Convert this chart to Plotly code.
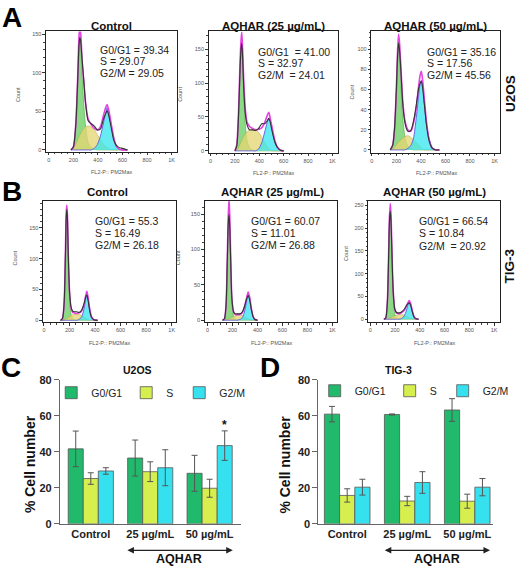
import plotly.graph_objects as go

FONT = "Liberation Sans, Arial, Helvetica, sans-serif"
W, H = 519, 570

# ---------------- histogram data (FL2-P channel vs Count) ----------------
a1_x     = [180, 200, 220, 235, 245, 252, 260, 270, 285, 300, 320, 345, 370, 395, 420, 445, 465, 475, 490, 510, 530, 550, 575, 600, 640]
a1_g1    = [0, 5, 30, 80, 125, 142, 135, 100, 58, 30, 10, 3, 1, 0, 0, 0, 0, 0, 0, 0, 0, 0, 0, 0, 0]
a1_s     = [0, 2, 8, 13, 17, 19, 22, 25, 28, 30, 31, 30, 26, 20, 13, 7, 4, 3, 1, 0, 0, 0, 0, 0, 0]
a1_g2    = [0, 0, 0, 0, 0, 0, 0, 0, 0, 0, 0, 0, 2, 7, 18, 35, 50, 55, 46, 30, 13, 4, 1, 0, 0]
a1_total = [0, 4, 35, 92, 135, 146, 140, 119, 89, 59, 38, 34, 31, 26, 27, 40, 48, 51, 43, 27, 12, 6, 3, 2, 0]
a1_fit   = [0, 4, 35, 95, 145, 160, 150, 118, 88, 60, 40, 33, 28, 26, 30, 45, 56, 59, 50, 32, 15, 5, 1, 0, 0]

a2_x     = [200, 215, 230, 243, 250, 256, 263, 272, 285, 300, 320, 345, 370, 395, 420, 445, 465, 478, 490, 510, 530, 550, 575, 600]
a2_g1    = [0, 8, 50, 120, 145, 150, 130, 85, 40, 15, 5, 1, 0, 0, 0, 0, 0, 0, 0, 0, 0, 0, 0, 0]
a2_s     = [0, 1, 5, 10, 13, 15, 18, 21, 25, 28, 31, 32, 31, 27, 20, 12, 6, 3, 1, 0, 0, 0, 0, 0]
a2_g2    = [0, 0, 0, 0, 0, 0, 0, 0, 0, 0, 0, 0, 0, 3, 12, 28, 42, 48, 44, 28, 12, 4, 1, 0]
a2_total = [0, 7, 55, 125, 150, 158, 140, 95, 55, 38, 31, 31, 30, 33, 40, 40, 44, 48, 42, 25, 12, 5, 1, 0]
a2_fit   = [0, 9, 58, 135, 162, 175, 150, 105, 62, 42, 36, 33, 31, 32, 34, 42, 52, 57, 48, 30, 14, 5, 1, 0]

a3_x     = [150, 170, 185, 200, 210, 218, 226, 238, 252, 268, 285, 300, 320, 340, 360, 380, 393, 403, 413, 428, 445, 465, 490, 520, 550]
a3_g1    = [0, 4, 18, 55, 88, 102, 92, 62, 32, 14, 6, 3, 1, 0, 0, 0, 0, 0, 0, 0, 0, 0, 0, 0, 0]
a3_s     = [0, 1, 3, 5, 7, 8, 9, 10, 12, 13, 14, 14, 12, 10, 7, 5, 3, 2, 1, 0, 0, 0, 0, 0, 0]
a3_g2    = [0, 0, 0, 0, 0, 0, 0, 0, 0, 0, 1, 2, 5, 12, 30, 52, 65, 69, 64, 46, 26, 12, 3, 0, 0]
a3_total = [0, 5, 22, 62, 95, 106, 98, 75, 45, 28, 20, 18, 20, 29, 43, 60, 66, 68, 62, 45, 25, 10, 2, 0, 0]
a3_fit   = [0, 5, 22, 62, 100, 115, 105, 78, 48, 30, 22, 19, 19, 27, 40, 62, 74, 78, 70, 50, 28, 11, 2, 0, 0]

b1_x     = [130, 145, 158, 168, 174, 179, 184, 190, 200, 212, 225, 240, 255, 270, 285, 300, 315, 327, 336, 345, 358, 372, 390, 420]
b1_g1    = [0, 3, 25, 100, 160, 180, 160, 105, 40, 10, 3, 1, 0, 0, 0, 0, 0, 0, 0, 0, 0, 0, 0, 0]
b1_s     = [0, 0, 1, 2, 3, 3, 4, 5, 6, 8, 9, 10, 10, 10, 9, 7, 5, 3, 2, 1, 0, 0, 0, 0]
b1_g2    = [0, 0, 0, 0, 0, 0, 0, 0, 0, 0, 0, 0, 0, 1, 3, 8, 20, 35, 42, 35, 18, 5, 1, 0]
b1_total = [0, 3, 28, 105, 165, 180, 165, 110, 48, 22, 15, 14, 14, 13, 14, 19, 28, 38, 41, 33, 16, 5, 1, 0]
b1_fit   = [0, 3, 28, 108, 172, 187, 170, 112, 48, 20, 13, 12, 11, 12, 13, 17, 27, 40, 47, 38, 19, 6, 1, 0]

b2_x     = [120, 135, 148, 158, 165, 172, 178, 185, 195, 208, 222, 238, 255, 270, 285, 300, 312, 325, 337, 350, 365, 380, 400]
b2_g1    = [0, 2, 20, 80, 130, 150, 130, 80, 25, 6, 1, 0, 0, 0, 0, 0, 0, 0, 0, 0, 0, 0, 0]
b2_s     = [0, 0, 1, 1, 2, 2, 3, 3, 4, 5, 6, 7, 7, 7, 6, 4, 3, 2, 1, 0, 0, 0, 0]
b2_g2    = [0, 0, 0, 0, 0, 0, 0, 0, 0, 0, 0, 0, 1, 2, 6, 15, 26, 36, 30, 16, 5, 1, 0]
b2_total = [0, 2, 22, 85, 135, 150, 130, 85, 30, 12, 9, 9, 9, 10, 14, 22, 30, 35, 29, 16, 5, 1, 0]
b2_fit   = [0, 2, 22, 88, 145, 172, 145, 90, 30, 12, 8, 8, 8, 9, 13, 22, 31, 40, 33, 17, 5, 1, 0]

b3_x     = [110, 125, 138, 148, 155, 162, 168, 175, 185, 198, 212, 228, 245, 260, 275, 290, 303, 315, 327, 340, 355, 370, 390]
b3_g1    = [0, 3, 35, 130, 210, 240, 210, 140, 55, 12, 3, 1, 0, 0, 0, 0, 0, 0, 0, 0, 0, 0, 0]
b3_s     = [0, 0, 1, 2, 3, 3, 4, 5, 6, 8, 9, 10, 10, 10, 9, 7, 5, 3, 2, 1, 0, 0, 0]
b3_g2    = [0, 0, 0, 0, 0, 0, 0, 0, 0, 0, 0, 0, 1, 3, 8, 18, 30, 37, 31, 17, 5, 1, 0]
b3_total = [0, 3, 38, 135, 215, 237, 212, 145, 62, 22, 15, 14, 15, 18, 22, 29, 34, 36, 30, 16, 4, 1, 0]
b3_fit   = [0, 3, 38, 140, 225, 254, 225, 150, 63, 22, 14, 12, 13, 16, 20, 28, 36, 41, 34, 18, 5, 1, 0]

hist_titles = ["Control", "AQHAR (25 µg/mL)", "AQHAR (50 µg/mL)",
               "Control", "AQHAR (25 µg/mL)", "AQHAR (50 µg/mL)"]
a1_stats = ["G0/G1 = 39.34", "S = 29.07", "G2/M = 29.05"]
a2_stats = ["G0/G1\u00a0 = 41.00", "S = 32.97", "G2/M\u00a0 = 24.01"]
a3_stats = ["G0/G1 = 35.16", "S = 17.56", "G2/M = 45.56"]
b1_stats = ["G0/G1 = 55.3", "S = 16.49", "G2/M = 26.18"]
b2_stats = ["G0/G1 = 60.07", "S = 11.01", "G2/M = 26.88"]
b3_stats = ["G0/G1 = 66.54", "S = 10.84", "G2/M\u00a0 = 20.92"]
x_tickvals = [0, 200, 400, 600, 800, 1000]
x_ticktext = ["0", "200", "400", "600", "800", "1K"]

# ---------------- bar chart data (% cell number, mean ± error) ----------------
categories = ["Control", "25 µg/mL", "50 µg/mL"]
phases = ["G0/G1", "S", "G2/M"]
c_g1 = [41.7, 36.6, 28.1]; c_g1_err = [9.9, 10.0, 10.0]
c_s  = [25.2, 29.0, 19.8]; c_s_err  = [3.2, 5.5, 5.0]
c_g2 = [29.4, 31.2, 43.5]; c_g2_err = [1.8, 10.0, 8.2]
c_g2_sig = ["", "", "*"]
d_g1 = [61.0, 60.8, 63.3]; d_g1_err = [4.3, 0.3, 6.3]
d_s  = [15.8, 12.7, 12.6]; d_s_err  = [3.7, 2.6, 3.9]
d_g2 = [20.4, 23.0, 20.4]; d_g2_err = [4.4, 6.0, 4.8]

# ---------------- helpers (layout only) ----------------
def xd(l, r):
    return [l / W, r / W]

def yd(t, b):
    return [1 - b / H, 1 - t / H]

def px(p):
    return p / W

def py(p):
    return 1 - p / H

fig = go.Figure()

hists = [
    (a1_x, a1_g1, a1_s, a1_g2, a1_total, a1_fit),
    (a2_x, a2_g1, a2_s, a2_g2, a2_total, a2_fit),
    (a3_x, a3_g1, a3_s, a3_g2, a3_total, a3_fit),
    (b1_x, b1_g1, b1_s, b1_g2, b1_total, b1_fit),
    (b2_x, b2_g1, b2_s, b2_g2, b2_total, b2_fit),
    (b3_x, b3_g1, b3_s, b3_g2, b3_total, b3_fit),
]
frames = [(45, 176, 26, 149), (208, 338, 26, 150), (371, 500, 26, 150),
          (42, 175, 199, 323), (204, 337, 199, 323), (368, 500, 199, 323)]
xranges = [[-24, 1041], [-16, 1049], [-5, 1045], [-8, 1031], [-24, 1040], [-16, 1048]]
yranges = [[-2.5, 153.7], [-2.9, 176], [-2.9, 117.5], [-3, 194], [-2.8, 169], [-6.4, 260]]
ydticks = [50, 50, 20, 50, 50, 50]

fill_g1 = "rgba(85,200,75,0.68)"
fill_s = "rgba(228,214,115,0.78)"
fill_g2 = "rgba(45,228,240,0.72)"

layout_axes = {}
for i, (hx, g1, s, g2, tot, fit) in enumerate(hists):
    n = i + 1
    xa = "x" if n == 1 else f"x{n}"
    ya = "y" if n == 1 else f"y{n}"
    common = dict(x=hx, mode="lines", xaxis=xa, yaxis=ya, showlegend=False,
                  hoverinfo="skip", line_shape="spline")
    fig.add_trace(go.Scatter(y=g1, fill="tozeroy", fillcolor=fill_g1,
                             line=dict(color="rgba(60,160,50,0.9)", width=0.6, smoothing=0.7), **common))
    fig.add_trace(go.Scatter(y=s, fill="tozeroy", fillcolor=fill_s,
                             line=dict(color="rgba(185,170,80,0.9)", width=0.6, smoothing=0.7), **common))
    fig.add_trace(go.Scatter(y=g2, fill="tozeroy", fillcolor=fill_g2,
                             line=dict(color="rgb(105,100,225)", width=1.0, smoothing=0.7), **common))
    fig.add_trace(go.Scatter(y=fit, line=dict(color="#e442e0", width=1.6, smoothing=0.7), **common))
    fig.add_trace(go.Scatter(y=tot, line=dict(color="#333333", width=1.1, smoothing=0.7), **common))

    l, r, t, b = frames[i]
    key = "" if n == 1 else str(n)
    layout_axes["xaxis" + key] = dict(
        domain=xd(l, r), range=xranges[i], anchor=ya, showline=True, mirror=True,
        linecolor="#222", linewidth=1, ticks="outside", ticklen=2.5, tickwidth=0.8,
        tickcolor="#333", tickvals=x_tickvals, ticktext=x_ticktext,
        tickfont=dict(size=5.5, color="#555", family=FONT),
        minor=dict(ticks="outside", ticklen=1.5, dtick=50, tick0=0, tickcolor="#444"),
        showgrid=False, zeroline=False)
    layout_axes["yaxis" + key] = dict(
        domain=yd(t, b), range=yranges[i], anchor=xa, showline=True, mirror=True,
        linecolor="#222", linewidth=1, ticks="outside", ticklen=2.5, tickwidth=0.8,
        tickcolor="#333", dtick=ydticks[i], tick0=0,
        tickfont=dict(size=5.5, color="#555", family=FONT),
        minor=dict(ticks="outside", ticklen=1.5, dtick=ydticks[i] / 5, tick0=0, tickcolor="#444"),
        showgrid=False, zeroline=False)

# ---------------- bar charts ----------------
bar_colors = ["#21b96c", "#d6ee4e", "#36e1ef"]
legend_widths = [30, 8, 28]
bar_sets = [
    ("x7", "y7", "legend", [c_g1, c_s, c_g2], [c_g1_err, c_s_err, c_g2_err]),
    ("x8", "y8", "legend2", [d_g1, d_s, d_g2], [d_g1_err, d_s_err, d_g2_err]),
]
for xa, ya, lg, vals, errs in bar_sets:
    for k in range(3):
        fig.add_trace(go.Bar(
            x=categories, y=vals[k], name=phases[k], xaxis=xa, yaxis=ya, legend=lg,
            legendwidth=legend_widths[k],
            marker=dict(color=bar_colors[k], line=dict(color="#555", width=0.8)),
            error_y=dict(type="data", array=errs[k], color="#555", thickness=1, width=3),
            hoverinfo="skip"))

bar_x = dict(showline=True, linecolor="#666", linewidth=1, ticks="", showgrid=False,
             zeroline=False, tickfont=dict(size=11, family=FONT, color="#222", weight="bold"))
bar_y = dict(range=[0, 80], dtick=20, showline=True, linecolor="#666", linewidth=1,
             ticks="outside", ticklen=5, tickcolor="#666", showgrid=False, zeroline=False,
             tickfont=dict(size=11, family=FONT, color="#222", weight="bold"))
layout_axes["xaxis7"] = dict(domain=xd(59, 240), range=[-0.52, 2.52], anchor="y7", **bar_x)
layout_axes["yaxis7"] = dict(domain=yd(382, 529), anchor="x7", **bar_y)
layout_axes["xaxis8"] = dict(domain=xd(318, 493), range=[-0.48, 2.43], anchor="y8", **bar_x)
layout_axes["yaxis8"] = dict(domain=yd(382, 529), anchor="x8", **bar_y)

# ---------------- annotations ----------------
ann = []

def text(x, y, s, size, bold=False, angle=0, xanchor="center", color="#111"):
    ann.append(dict(x=px(x), y=py(y), xref="paper", yref="paper", text=(f"<b>{s}</b>" if bold else s),
                    showarrow=False, xanchor=xanchor, yanchor="middle", textangle=angle,
                    font=dict(size=size, family=FONT, color=color)))

# panel letters
for letter, lx, ly in [("A", 11, 12), ("B", 11, 189), ("C", 10, 369), ("D", 270, 369)]:
    text(lx, ly, letter, 28, bold=True, color="#000")

# histogram titles / stats / axis titles
title_pos = [(110.5, 20), (273, 20), (435.5, 20), (107, 190), (272, 190), (434, 190)]
stats = [a1_stats, a2_stats, a3_stats, b1_stats, b2_stats, b3_stats]
stats_pos = [(97, [45, 56.5, 68]), (255, [46.7, 58, 70]), (425, [46.7, 58, 70]),
             (91.7, [220, 232, 244]), (248, [220, 232, 244]), (417, [220, 232, 245])]
count_pos = [(17, 90), (179, 90), (352, 88), (14, 257), (177, 257), (345, 253)]
for i in range(6):
    tx, ty = title_pos[i]
    text(tx, ty, hist_titles[i], 11.5, bold=True)
    sx, sys_ = stats_pos[i]
    for line, yy in zip(stats[i], sys_):
        text(sx, yy, line, 10.5, xanchor="left", color="#222")
    cx, cy = count_pos[i]
    text(cx, cy, "Count", 5.5, angle=-90, color="#555")
    l, r, t, b = frames[i]
    text((l + r) / 2 + 1, b + 21, "FL2-P:: PM2Max", 5.5, color="#555")

text(510, 90, "U2OS", 13.5, bold=True, angle=-90)
text(509, 266, "TIG-3", 13.5, bold=True, angle=-90)

# bar chart titles, y titles
text(137, 372, "U2OS", 10.5, bold=True)
text(398, 372, "TIG-3", 10.5, bold=True)
text(29, 468, "% Cell number", 14, bold=True, angle=-90)
text(285, 468, "% Cell number", 14, bold=True, angle=-90)

# AQHAR arrows and label
for xa, lo, hi in [("x7", 0.59, 2.39), ("x8", 0.60, 2.38)]:
    ann.append(dict(x=hi, y=py(556), xref=xa, yref="paper", ax=lo, ay=0, axref=xa, ayref="pixel",
                    text="", showarrow=True, arrowside="end+start", arrowhead=2, arrowsize=1.1,
                    arrowwidth=1.2, arrowcolor="#222", standoff=0, startstandoff=0))
    ann.append(dict(x=(lo + hi) / 2, y=py(565), xref=xa, yref="paper", text="<b>AQHAR</b>",
                    showarrow=False, xanchor="center", yanchor="middle",
                    font=dict(size=12.5, family=FONT, color="#111")))

# significance star above G2/M bar
bargap = 0.24
g2_offset = (1 - bargap) / 3
for j, mark in enumerate(c_g2_sig):
    if mark:
        ann.append(dict(x=j + g2_offset, y=c_g2[j] + c_g2_err[j], xref="x7", yref="y7",
                        text=f"<b>{mark}</b>", showarrow=False, xanchor="center", yanchor="bottom",
                        yshift=-3, font=dict(size=12, family=FONT, color="#111")))

leg_common = dict(orientation="h", xanchor="center", yanchor="middle", bgcolor="rgba(0,0,0,0)",
                  font=dict(size=10.5, family=FONT, color="#222"), itemwidth=30,
                  itemclick=False, itemdoubleclick=False)

fig.update_layout(
    width=W, height=H, margin=dict(l=0, r=0, t=0, b=0),
    paper_bgcolor="white", plot_bgcolor="white",
    font=dict(family=FONT, color="#222"),
    barmode="group", bargap=bargap, bargroupgap=0,
    showlegend=True,
    legend=dict(x=px(151), y=py(395), **leg_common),
    legend2=dict(x=px(415), y=py(393), **leg_common),
    annotations=ann,
    **layout_axes,
)

fig.write_html("out.html")
